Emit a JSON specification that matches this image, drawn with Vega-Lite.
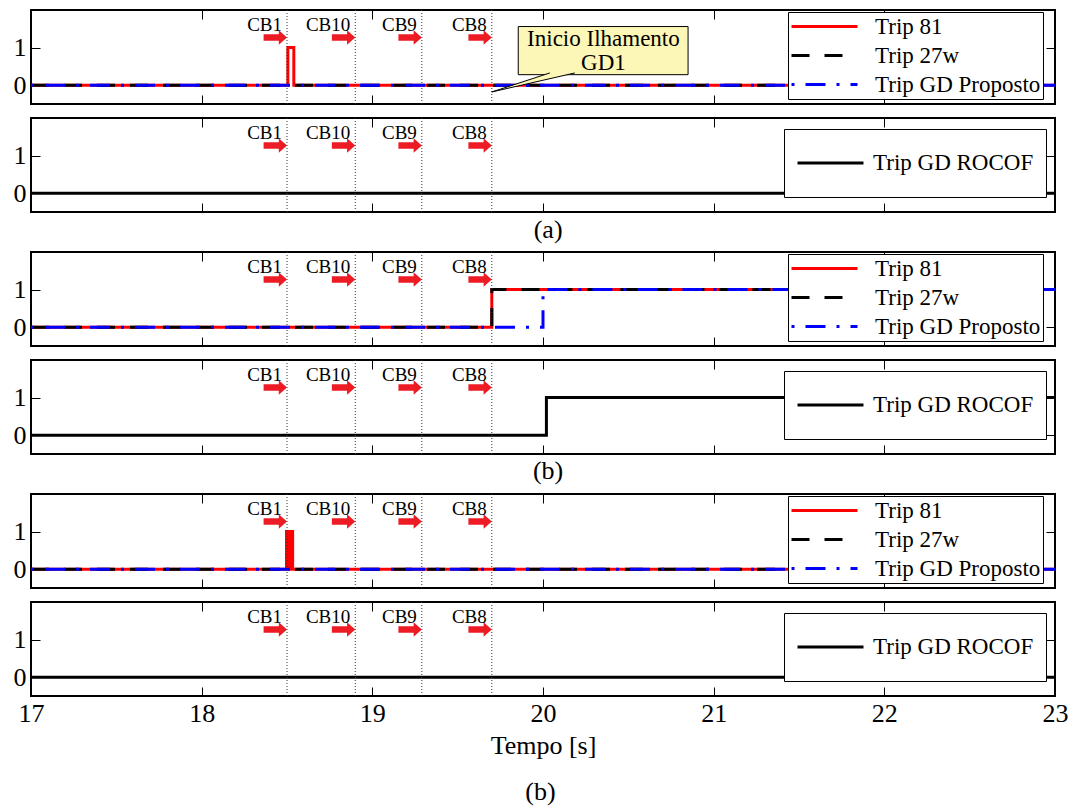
{
  "$schema": "https://vega.github.io/schema/vega-lite/v6.json",
  "padding": {"left": 12, "top": 8, "right": 10, "bottom": 5},
  "bounds": "flush",
  "spacing": 14,
  "title": {"text": "(b)", "orient": "bottom", "anchor": "middle", "fontSize": 26, "font": "Liberation Serif", "fontWeight": "normal", "color": "black", "offset": 20},
  "datasets": {
    "lines": [
      {"p": 1, "s": "Trip 81", "t": 17, "v": 0},
      {"p": 1, "s": "Trip 81", "t": 18.505, "v": 1},
      {"p": 1, "s": "Trip 81", "t": 18.54, "v": 0},
      {"p": 1, "s": "Trip 81", "t": 23, "v": 0},
      {"p": 1, "s": "Trip 27w", "t": 17, "v": 0},
      {"p": 1, "s": "Trip 27w", "t": 23, "v": 0},
      {"p": 1, "s": "Trip GD Proposto", "t": 17, "v": 0},
      {"p": 1, "s": "Trip GD Proposto", "t": 23, "v": 0},
      {"p": 2, "s": "Trip GD ROCOF", "t": 17, "v": 0},
      {"p": 2, "s": "Trip GD ROCOF", "t": 23, "v": 0},
      {"p": 3, "s": "Trip 81", "t": 17, "v": 0},
      {"p": 3, "s": "Trip 81", "t": 19.7, "v": 1},
      {"p": 3, "s": "Trip 81", "t": 23, "v": 1},
      {"p": 3, "s": "Trip 27w", "t": 17, "v": 0},
      {"p": 3, "s": "Trip 27w", "t": 19.7, "v": 1},
      {"p": 3, "s": "Trip 27w", "t": 23, "v": 1},
      {"p": 3, "s": "Trip GD Proposto", "t": 17, "v": 0},
      {"p": 3, "s": "Trip GD Proposto", "t": 20.0, "v": 1},
      {"p": 3, "s": "Trip GD Proposto", "t": 23, "v": 1},
      {"p": 4, "s": "Trip GD ROCOF", "t": 17, "v": 0},
      {"p": 4, "s": "Trip GD ROCOF", "t": 20.02, "v": 1},
      {"p": 4, "s": "Trip GD ROCOF", "t": 23, "v": 1},
      {"p": 5, "s": "Trip 81", "t": 17, "v": 0},
      {"p": 5, "s": "Trip 81", "t": 18.497, "v": 1},
      {"p": 5, "s": "Trip 81", "t": 18.505, "v": 0},
      {"p": 5, "s": "Trip 81", "t": 18.51, "v": 1},
      {"p": 5, "s": "Trip 81", "t": 18.518, "v": 0},
      {"p": 5, "s": "Trip 81", "t": 18.523, "v": 1},
      {"p": 5, "s": "Trip 81", "t": 18.533, "v": 0},
      {"p": 5, "s": "Trip 81", "t": 23, "v": 0},
      {"p": 5, "s": "Trip 27w", "t": 17, "v": 0},
      {"p": 5, "s": "Trip 27w", "t": 23, "v": 0},
      {"p": 5, "s": "Trip GD Proposto", "t": 17, "v": 0},
      {"p": 5, "s": "Trip GD Proposto", "t": 23, "v": 0},
      {"p": 6, "s": "Trip GD ROCOF", "t": 17, "v": 0},
      {"p": 6, "s": "Trip GD ROCOF", "t": 23, "v": 0}
    ],
    "cb": [
      {"name": "CB1", "t": 18.5},
      {"name": "CB10", "t": 18.9},
      {"name": "CB9", "t": 19.29},
      {"name": "CB8", "t": 19.7}
    ]
  },
  "vconcat": [
    {
      "width": 1024, "height": 94,
      "layer": [
        {"data": {"name": "lines"}, "transform": [{"filter": "datum.p == 1 && datum.s == 'Trip 81'"}],
         "mark": {"type": "line", "interpolate": "step-after", "strokeWidth": 3},
         "encoding": {
           "x": {"field": "t", "type": "quantitative", "scale": {"domain": [17, 23], "nice": false, "zero": false}, "axis": {"orient": "bottom", "values": [18, 19, 20, 21, 22], "labels": false, "title": null}},
           "y": {"field": "v", "type": "quantitative", "scale": {"domain": [-0.5, 2], "nice": false, "zero": false}, "axis": {"orient": "left", "values": [0, 1], "title": null}},
           "color": {"field": "s", "type": "nominal", "scale": {"domain": ["Trip 81", "Trip 27w", "Trip GD Proposto"], "range": ["#ff0000", "#000000", "#0000ff"]},
             "legend": {"orient": "none", "legendX": 757, "legendY": 2, "title": null, "padding": 2, "clipHeight": 25, "rowPadding": 4, "labelOffset": 16, "labelLimit": 400, "symbolType": "stroke", "symbolSize": 4356, "symbolStrokeWidth": 3, "labelFont": "Liberation Serif", "labelFontSize": 23, "labelColor": "black", "fillColor": "white", "strokeColor": "black", "zindex": 1}},
           "strokeDash": {"field": "s", "type": "nominal", "scale": {"domain": ["Trip 81", "Trip 27w", "Trip GD Proposto"], "range": [[1, 0], [18, 15], [3, 11, 20, 11]]},
             "legend": {"orient": "none", "legendX": 757, "legendY": 2, "title": null, "padding": 2, "clipHeight": 25, "rowPadding": 4, "labelOffset": 16, "labelLimit": 400, "symbolType": "stroke", "symbolSize": 4356, "symbolStrokeWidth": 3, "labelFont": "Liberation Serif", "labelFontSize": 23, "labelColor": "black", "fillColor": "white", "strokeColor": "black", "zindex": 1}}
         }},
        {"data": {"name": "lines"}, "transform": [{"filter": "datum.p == 1 && datum.s == 'Trip 27w'"}],
         "mark": {"type": "line", "interpolate": "step-after", "strokeWidth": 3},
         "encoding": {
           "x": {"field": "t", "type": "quantitative", "axis": {"orient": "top", "values": [18, 19, 20, 21, 22], "labels": false, "title": null}},
           "y": {"field": "v", "type": "quantitative", "axis": {"orient": "right", "values": [0, 1], "labels": false, "title": null}},
           "color": {"field": "s", "type": "nominal"},
           "strokeDash": {"field": "s", "type": "nominal"}
         }},
        {"data": {"name": "lines"}, "transform": [{"filter": "datum.p == 1 && datum.s == 'Trip GD Proposto'"}],
         "mark": {"type": "line", "interpolate": "step-after", "strokeWidth": 3},
         "encoding": {
           "x": {"field": "t", "type": "quantitative", "axis": null},
           "y": {"field": "v", "type": "quantitative", "axis": null},
           "color": {"field": "s", "type": "nominal"},
           "strokeDash": {"field": "s", "type": "nominal"}
         }},
        {"data": {"name": "cb"}, "mark": {"type": "rule", "strokeDash": [1, 2], "color": "#333333", "strokeWidth": 1},
         "encoding": {"x": {"field": "t", "type": "quantitative", "axis": null}}},
        {"data": {"name": "cb"}, "mark": {"type": "point", "shape": "M-2,-0.28L-0.7,-0.28L-0.7,-0.62L0,0L-0.7,0.62L-0.7,0.28L-2,0.28Z", "size": 548, "filled": true, "color": "#ed1c24", "opacity": 1},
         "encoding": {"x": {"field": "t", "type": "quantitative", "axis": null}, "y": {"datum": 1.27, "type": "quantitative", "axis": null}}},
        {"data": {"name": "cb"}, "mark": {"type": "text", "align": "right", "dx": -5, "baseline": "middle", "font": "Liberation Serif", "fontSize": 19, "color": "black"},
         "encoding": {"x": {"field": "t", "type": "quantitative", "axis": null}, "y": {"datum": 1.6, "type": "quantitative", "axis": null}, "text": {"field": "name"}}},
        {"data": {"values": [{}]}, "mark": {"type": "rect", "fill": "#fdf7b7", "stroke": "black", "strokeWidth": 1},
         "encoding": {"x": {"datum": 19.855, "type": "quantitative", "axis": null}, "x2": {"datum": 20.85}, "y": {"datum": 0.28, "type": "quantitative", "axis": null}, "y2": {"datum": 1.56}}},
        {"data": {"values": [{}]}, "mark": {"type": "point", "shape": "M5.8,-1.9L0,0L8.3,-1.9", "size": 400, "filled": true, "fill": "#fdf7b7", "stroke": "black", "strokeWidth": 1, "opacity": 1},
         "encoding": {"x": {"datum": 19.7, "type": "quantitative", "axis": null}, "y": {"datum": -0.18, "type": "quantitative", "axis": null}}},
        {"data": {"values": [{}]}, "mark": {"type": "text", "align": "center", "baseline": "middle", "font": "Liberation Serif", "fontSize": 23, "lineHeight": 24, "color": "black"},
         "encoding": {"x": {"datum": 20.354, "type": "quantitative", "axis": null}, "y": {"datum": 1.235, "type": "quantitative", "axis": null}, "text": {"value": ["Inicio Ilhamento", "GD1"]}}}
      ],
      "resolve": {"axis": {"x": "independent", "y": "independent"}}
    },
    {
      "width": 1024, "height": 94,
      "layer": [
        {"data": {"name": "lines"}, "transform": [{"filter": "datum.p == 2"}],
         "mark": {"type": "line", "interpolate": "step-after", "strokeWidth": 3},
         "encoding": {
           "x": {"field": "t", "type": "quantitative", "scale": {"domain": [17, 23], "nice": false, "zero": false}, "axis": {"orient": "bottom", "values": [18, 19, 20, 21, 22], "labels": false, "title": null}},
           "y": {"field": "v", "type": "quantitative", "scale": {"domain": [-0.5, 2], "nice": false, "zero": false}, "axis": {"orient": "left", "values": [0, 1], "title": null}},
           "color": {"field": "s", "type": "nominal", "scale": {"domain": ["Trip GD ROCOF"], "range": ["#000000"]},
             "legend": {"orient": "none", "legendX": 753, "legendY": 11, "title": null, "padding": 12, "clipHeight": 44, "labelOffset": 8, "labelLimit": 400, "symbolType": "stroke", "symbolSize": 4356, "symbolStrokeWidth": 3, "labelFont": "Liberation Serif", "labelFontSize": 23, "labelColor": "black", "fillColor": "white", "strokeColor": "black", "zindex": 1}},
           "strokeDash": {"field": "s", "type": "nominal", "scale": {"domain": ["Trip GD ROCOF"], "range": [[1, 0]]},
             "legend": {"orient": "none", "legendX": 753, "legendY": 11, "title": null, "padding": 12, "clipHeight": 44, "labelOffset": 8, "labelLimit": 400, "symbolType": "stroke", "symbolSize": 4356, "symbolStrokeWidth": 3, "labelFont": "Liberation Serif", "labelFontSize": 23, "labelColor": "black", "fillColor": "white", "strokeColor": "black", "zindex": 1}}
         }},
        {"data": {"name": "cb"}, "mark": {"type": "rule", "strokeDash": [1, 2], "color": "#333333", "strokeWidth": 1},
         "encoding": {"x": {"field": "t", "type": "quantitative", "axis": {"orient": "top", "values": [18, 19, 20, 21, 22], "labels": false, "title": null}}}},
        {"data": {"name": "cb"}, "mark": {"type": "point", "shape": "M-2,-0.28L-0.7,-0.28L-0.7,-0.62L0,0L-0.7,0.62L-0.7,0.28L-2,0.28Z", "size": 548, "filled": true, "color": "#ed1c24", "opacity": 1},
         "encoding": {"x": {"field": "t", "type": "quantitative", "axis": null}, "y": {"datum": 1.27, "type": "quantitative", "axis": {"orient": "right", "values": [0, 1], "labels": false, "title": null}}}},
        {"data": {"name": "cb"}, "mark": {"type": "text", "align": "right", "dx": -5, "baseline": "middle", "font": "Liberation Serif", "fontSize": 19, "color": "black"},
         "encoding": {"x": {"field": "t", "type": "quantitative", "axis": null}, "y": {"datum": 1.6, "type": "quantitative", "axis": null}, "text": {"field": "name"}}}
      ],
      "resolve": {"axis": {"x": "independent", "y": "independent"}}
    },
    {
      "width": 1024, "height": 12, "view": {"stroke": null},
      "data": {"values": [{}]},
      "mark": {"type": "text", "font": "Liberation Serif", "fontSize": 26, "baseline": "middle", "color": "black", "dy": -2},
      "encoding": {"x": {"datum": 20.03, "type": "quantitative", "scale": {"domain": [17, 23], "nice": false, "zero": false}, "axis": null}, "text": {"value": "(a)"}}
    },
    {
      "width": 1024, "height": 94,
      "layer": [
        {"data": {"name": "lines"}, "transform": [{"filter": "datum.p == 3 && datum.s == 'Trip 81'"}],
         "mark": {"type": "line", "interpolate": "step-after", "strokeWidth": 3},
         "encoding": {
           "x": {"field": "t", "type": "quantitative", "scale": {"domain": [17, 23], "nice": false, "zero": false}, "axis": {"orient": "bottom", "values": [18, 19, 20, 21, 22], "labels": false, "title": null}},
           "y": {"field": "v", "type": "quantitative", "scale": {"domain": [-0.5, 2], "nice": false, "zero": false}, "axis": {"orient": "left", "values": [0, 1], "title": null}},
           "color": {"field": "s", "type": "nominal", "scale": {"domain": ["Trip 81", "Trip 27w", "Trip GD Proposto"], "range": ["#ff0000", "#000000", "#0000ff"]},
             "legend": {"orient": "none", "legendX": 757, "legendY": 2, "title": null, "padding": 2, "clipHeight": 25, "rowPadding": 4, "labelOffset": 16, "labelLimit": 400, "symbolType": "stroke", "symbolSize": 4356, "symbolStrokeWidth": 3, "labelFont": "Liberation Serif", "labelFontSize": 23, "labelColor": "black", "fillColor": "white", "strokeColor": "black", "zindex": 1}},
           "strokeDash": {"field": "s", "type": "nominal", "scale": {"domain": ["Trip 81", "Trip 27w", "Trip GD Proposto"], "range": [[1, 0], [18, 15], [3, 11, 20, 11]]},
             "legend": {"orient": "none", "legendX": 757, "legendY": 2, "title": null, "padding": 2, "clipHeight": 25, "rowPadding": 4, "labelOffset": 16, "labelLimit": 400, "symbolType": "stroke", "symbolSize": 4356, "symbolStrokeWidth": 3, "labelFont": "Liberation Serif", "labelFontSize": 23, "labelColor": "black", "fillColor": "white", "strokeColor": "black", "zindex": 1}}
         }},
        {"data": {"name": "lines"}, "transform": [{"filter": "datum.p == 3 && datum.s == 'Trip 27w'"}],
         "mark": {"type": "line", "interpolate": "step-after", "strokeWidth": 3},
         "encoding": {
           "x": {"field": "t", "type": "quantitative", "axis": {"orient": "top", "values": [18, 19, 20, 21, 22], "labels": false, "title": null}},
           "y": {"field": "v", "type": "quantitative", "axis": {"orient": "right", "values": [0, 1], "labels": false, "title": null}},
           "color": {"field": "s", "type": "nominal"},
           "strokeDash": {"field": "s", "type": "nominal"}
         }},
        {"data": {"name": "lines"}, "transform": [{"filter": "datum.p == 3 && datum.s == 'Trip GD Proposto'"}],
         "mark": {"type": "line", "interpolate": "step-after", "strokeWidth": 3},
         "encoding": {
           "x": {"field": "t", "type": "quantitative", "axis": null},
           "y": {"field": "v", "type": "quantitative", "axis": null},
           "color": {"field": "s", "type": "nominal"},
           "strokeDash": {"field": "s", "type": "nominal"}
         }},
        {"data": {"name": "cb"}, "mark": {"type": "rule", "strokeDash": [1, 2], "color": "#333333", "strokeWidth": 1},
         "encoding": {"x": {"field": "t", "type": "quantitative", "axis": null}}},
        {"data": {"name": "cb"}, "mark": {"type": "point", "shape": "M-2,-0.28L-0.7,-0.28L-0.7,-0.62L0,0L-0.7,0.62L-0.7,0.28L-2,0.28Z", "size": 548, "filled": true, "color": "#ed1c24", "opacity": 1},
         "encoding": {"x": {"field": "t", "type": "quantitative", "axis": null}, "y": {"datum": 1.27, "type": "quantitative", "axis": null}}},
        {"data": {"name": "cb"}, "mark": {"type": "text", "align": "right", "dx": -5, "baseline": "middle", "font": "Liberation Serif", "fontSize": 19, "color": "black"},
         "encoding": {"x": {"field": "t", "type": "quantitative", "axis": null}, "y": {"datum": 1.6, "type": "quantitative", "axis": null}, "text": {"field": "name"}}}
      ],
      "resolve": {"axis": {"x": "independent", "y": "independent"}}
    },
    {
      "width": 1024, "height": 94,
      "layer": [
        {"data": {"name": "lines"}, "transform": [{"filter": "datum.p == 4"}],
         "mark": {"type": "line", "interpolate": "step-after", "strokeWidth": 3},
         "encoding": {
           "x": {"field": "t", "type": "quantitative", "scale": {"domain": [17, 23], "nice": false, "zero": false}, "axis": {"orient": "bottom", "values": [18, 19, 20, 21, 22], "labels": false, "title": null}},
           "y": {"field": "v", "type": "quantitative", "scale": {"domain": [-0.5, 2], "nice": false, "zero": false}, "axis": {"orient": "left", "values": [0, 1], "title": null}},
           "color": {"field": "s", "type": "nominal", "scale": {"domain": ["Trip GD ROCOF"], "range": ["#000000"]},
             "legend": {"orient": "none", "legendX": 753, "legendY": 11, "title": null, "padding": 12, "clipHeight": 44, "labelOffset": 8, "labelLimit": 400, "symbolType": "stroke", "symbolSize": 4356, "symbolStrokeWidth": 3, "labelFont": "Liberation Serif", "labelFontSize": 23, "labelColor": "black", "fillColor": "white", "strokeColor": "black", "zindex": 1}},
           "strokeDash": {"field": "s", "type": "nominal", "scale": {"domain": ["Trip GD ROCOF"], "range": [[1, 0]]},
             "legend": {"orient": "none", "legendX": 753, "legendY": 11, "title": null, "padding": 12, "clipHeight": 44, "labelOffset": 8, "labelLimit": 400, "symbolType": "stroke", "symbolSize": 4356, "symbolStrokeWidth": 3, "labelFont": "Liberation Serif", "labelFontSize": 23, "labelColor": "black", "fillColor": "white", "strokeColor": "black", "zindex": 1}}
         }},
        {"data": {"name": "cb"}, "mark": {"type": "rule", "strokeDash": [1, 2], "color": "#333333", "strokeWidth": 1},
         "encoding": {"x": {"field": "t", "type": "quantitative", "axis": {"orient": "top", "values": [18, 19, 20, 21, 22], "labels": false, "title": null}}}},
        {"data": {"name": "cb"}, "mark": {"type": "point", "shape": "M-2,-0.28L-0.7,-0.28L-0.7,-0.62L0,0L-0.7,0.62L-0.7,0.28L-2,0.28Z", "size": 548, "filled": true, "color": "#ed1c24", "opacity": 1},
         "encoding": {"x": {"field": "t", "type": "quantitative", "axis": null}, "y": {"datum": 1.27, "type": "quantitative", "axis": {"orient": "right", "values": [0, 1], "labels": false, "title": null}}}},
        {"data": {"name": "cb"}, "mark": {"type": "text", "align": "right", "dx": -5, "baseline": "middle", "font": "Liberation Serif", "fontSize": 19, "color": "black"},
         "encoding": {"x": {"field": "t", "type": "quantitative", "axis": null}, "y": {"datum": 1.6, "type": "quantitative", "axis": null}, "text": {"field": "name"}}}
      ],
      "resolve": {"axis": {"x": "independent", "y": "independent"}}
    },
    {
      "width": 1024, "height": 12, "view": {"stroke": null},
      "data": {"values": [{}]},
      "mark": {"type": "text", "font": "Liberation Serif", "fontSize": 26, "baseline": "middle", "color": "black", "dy": -3},
      "encoding": {"x": {"datum": 20.03, "type": "quantitative", "scale": {"domain": [17, 23], "nice": false, "zero": false}, "axis": null}, "text": {"value": "(b)"}}
    },
    {
      "width": 1024, "height": 94,
      "layer": [
        {"data": {"name": "lines"}, "transform": [{"filter": "datum.p == 5 && datum.s == 'Trip 81'"}],
         "mark": {"type": "line", "interpolate": "step-after", "strokeWidth": 3},
         "encoding": {
           "x": {"field": "t", "type": "quantitative", "scale": {"domain": [17, 23], "nice": false, "zero": false}, "axis": {"orient": "bottom", "values": [18, 19, 20, 21, 22], "labels": false, "title": null}},
           "y": {"field": "v", "type": "quantitative", "scale": {"domain": [-0.5, 2], "nice": false, "zero": false}, "axis": {"orient": "left", "values": [0, 1], "title": null}},
           "color": {"field": "s", "type": "nominal", "scale": {"domain": ["Trip 81", "Trip 27w", "Trip GD Proposto"], "range": ["#ff0000", "#000000", "#0000ff"]},
             "legend": {"orient": "none", "legendX": 757, "legendY": 2, "title": null, "padding": 2, "clipHeight": 25, "rowPadding": 4, "labelOffset": 16, "labelLimit": 400, "symbolType": "stroke", "symbolSize": 4356, "symbolStrokeWidth": 3, "labelFont": "Liberation Serif", "labelFontSize": 23, "labelColor": "black", "fillColor": "white", "strokeColor": "black", "zindex": 1}},
           "strokeDash": {"field": "s", "type": "nominal", "scale": {"domain": ["Trip 81", "Trip 27w", "Trip GD Proposto"], "range": [[1, 0], [18, 15], [3, 11, 20, 11]]},
             "legend": {"orient": "none", "legendX": 757, "legendY": 2, "title": null, "padding": 2, "clipHeight": 25, "rowPadding": 4, "labelOffset": 16, "labelLimit": 400, "symbolType": "stroke", "symbolSize": 4356, "symbolStrokeWidth": 3, "labelFont": "Liberation Serif", "labelFontSize": 23, "labelColor": "black", "fillColor": "white", "strokeColor": "black", "zindex": 1}}
         }},
        {"data": {"name": "lines"}, "transform": [{"filter": "datum.p == 5 && datum.s == 'Trip 27w'"}],
         "mark": {"type": "line", "interpolate": "step-after", "strokeWidth": 3},
         "encoding": {
           "x": {"field": "t", "type": "quantitative", "axis": {"orient": "top", "values": [18, 19, 20, 21, 22], "labels": false, "title": null}},
           "y": {"field": "v", "type": "quantitative", "axis": {"orient": "right", "values": [0, 1], "labels": false, "title": null}},
           "color": {"field": "s", "type": "nominal"},
           "strokeDash": {"field": "s", "type": "nominal"}
         }},
        {"data": {"name": "lines"}, "transform": [{"filter": "datum.p == 5 && datum.s == 'Trip GD Proposto'"}],
         "mark": {"type": "line", "interpolate": "step-after", "strokeWidth": 3},
         "encoding": {
           "x": {"field": "t", "type": "quantitative", "axis": null},
           "y": {"field": "v", "type": "quantitative", "axis": null},
           "color": {"field": "s", "type": "nominal"},
           "strokeDash": {"field": "s", "type": "nominal"}
         }},
        {"data": {"name": "cb"}, "mark": {"type": "rule", "strokeDash": [1, 2], "color": "#333333", "strokeWidth": 1},
         "encoding": {"x": {"field": "t", "type": "quantitative", "axis": null}}},
        {"data": {"name": "cb"}, "mark": {"type": "point", "shape": "M-2,-0.28L-0.7,-0.28L-0.7,-0.62L0,0L-0.7,0.62L-0.7,0.28L-2,0.28Z", "size": 548, "filled": true, "color": "#ed1c24", "opacity": 1},
         "encoding": {"x": {"field": "t", "type": "quantitative", "axis": null}, "y": {"datum": 1.27, "type": "quantitative", "axis": null}}},
        {"data": {"name": "cb"}, "mark": {"type": "text", "align": "right", "dx": -5, "baseline": "middle", "font": "Liberation Serif", "fontSize": 19, "color": "black"},
         "encoding": {"x": {"field": "t", "type": "quantitative", "axis": null}, "y": {"datum": 1.6, "type": "quantitative", "axis": null}, "text": {"field": "name"}}}
      ],
      "resolve": {"axis": {"x": "independent", "y": "independent"}}
    },
    {
      "width": 1024, "height": 94,
      "layer": [
        {"data": {"name": "lines"}, "transform": [{"filter": "datum.p == 6"}],
         "mark": {"type": "line", "interpolate": "step-after", "strokeWidth": 3},
         "encoding": {
           "x": {"field": "t", "type": "quantitative", "scale": {"domain": [17, 23], "nice": false, "zero": false}, "axis": {"orient": "bottom", "values": [17, 18, 19, 20, 21, 22, 23], "labels": true, "labelPadding": 13, "title": "Tempo [s]", "titlePadding": 6}},
           "y": {"field": "v", "type": "quantitative", "scale": {"domain": [-0.5, 2], "nice": false, "zero": false}, "axis": {"orient": "left", "values": [0, 1], "title": null}},
           "color": {"field": "s", "type": "nominal", "scale": {"domain": ["Trip GD ROCOF"], "range": ["#000000"]},
             "legend": {"orient": "none", "legendX": 753, "legendY": 11, "title": null, "padding": 12, "clipHeight": 44, "labelOffset": 8, "labelLimit": 400, "symbolType": "stroke", "symbolSize": 4356, "symbolStrokeWidth": 3, "labelFont": "Liberation Serif", "labelFontSize": 23, "labelColor": "black", "fillColor": "white", "strokeColor": "black", "zindex": 1}},
           "strokeDash": {"field": "s", "type": "nominal", "scale": {"domain": ["Trip GD ROCOF"], "range": [[1, 0]]},
             "legend": {"orient": "none", "legendX": 753, "legendY": 11, "title": null, "padding": 12, "clipHeight": 44, "labelOffset": 8, "labelLimit": 400, "symbolType": "stroke", "symbolSize": 4356, "symbolStrokeWidth": 3, "labelFont": "Liberation Serif", "labelFontSize": 23, "labelColor": "black", "fillColor": "white", "strokeColor": "black", "zindex": 1}}
         }},
        {"data": {"name": "cb"}, "mark": {"type": "rule", "strokeDash": [1, 2], "color": "#333333", "strokeWidth": 1},
         "encoding": {"x": {"field": "t", "type": "quantitative", "axis": {"orient": "top", "values": [18, 19, 20, 21, 22], "labels": false, "title": null}}}},
        {"data": {"name": "cb"}, "mark": {"type": "point", "shape": "M-2,-0.28L-0.7,-0.28L-0.7,-0.62L0,0L-0.7,0.62L-0.7,0.28L-2,0.28Z", "size": 548, "filled": true, "color": "#ed1c24", "opacity": 1},
         "encoding": {"x": {"field": "t", "type": "quantitative", "axis": null}, "y": {"datum": 1.27, "type": "quantitative", "axis": {"orient": "right", "values": [0, 1], "labels": false, "title": null}}}},
        {"data": {"name": "cb"}, "mark": {"type": "text", "align": "right", "dx": -5, "baseline": "middle", "font": "Liberation Serif", "fontSize": 19, "color": "black"},
         "encoding": {"x": {"field": "t", "type": "quantitative", "axis": null}, "y": {"datum": 1.6, "type": "quantitative", "axis": null}, "text": {"field": "name"}}}
      ],
      "resolve": {"axis": {"x": "independent", "y": "independent"}}
    }
  ],
  "resolve": {"scale": {"color": "independent", "strokeDash": "independent"}},
  "config": {
    "font": "Liberation Serif",
    "view": {"stroke": "black", "strokeWidth": 2},
    "axis": {"domain": false, "grid": false, "tickColor": "black", "tickWidth": 1, "tickSize": -9, "labelFont": "Liberation Serif", "labelFontSize": 26, "labelColor": "black", "labelPadding": 14, "labelFlush": false, "titleFont": "Liberation Serif", "titleFontSize": 26, "titleFontWeight": "normal", "titleColor": "black"}
  }
}
